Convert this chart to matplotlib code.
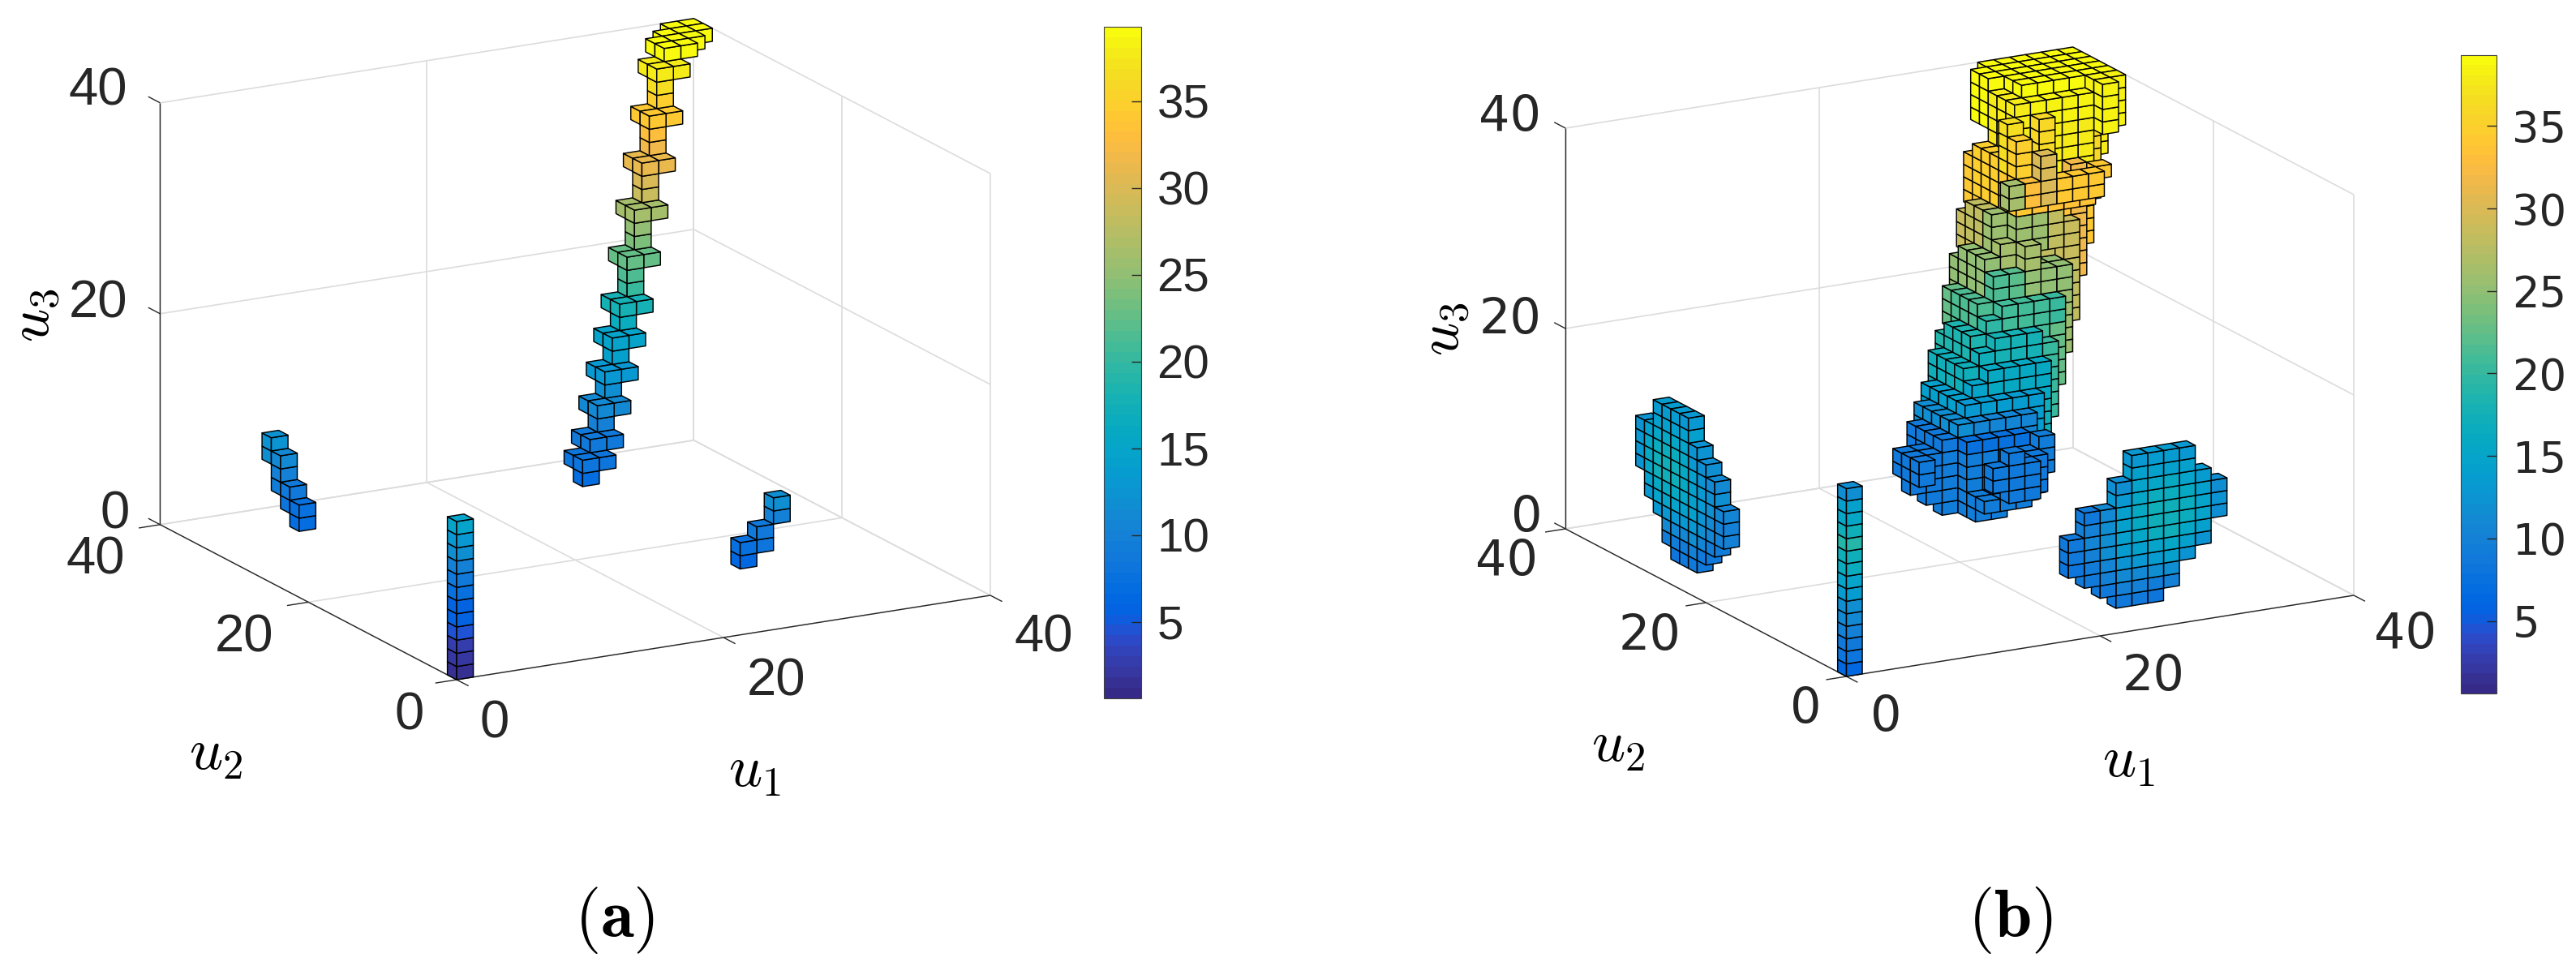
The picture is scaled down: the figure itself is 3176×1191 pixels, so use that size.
import matplotlib
matplotlib.use("Agg")
import matplotlib.pyplot as plt
import numpy as np
from matplotlib.collections import PolyCollection, LineCollection
from matplotlib.colors import ListedColormap, Normalize
from matplotlib.cm import ScalarMappable

# ---------------- colormap ----------------
PARULA = [[0.2081,0.1663,0.5292],[0.2116,0.1898,0.5777],[0.2123,0.2138,0.6270],[0.2081,0.2386,0.6771],[0.1959,0.2645,0.7279],[0.1707,0.2919,0.7792],[0.1253,0.3242,0.8303],[0.0591,0.3598,0.8683],[0.0117,0.3875,0.8820],[0.0060,0.4086,0.8828],[0.0165,0.4266,0.8786],[0.0329,0.4430,0.8720],[0.0498,0.4586,0.8641],[0.0629,0.4737,0.8554],[0.0723,0.4887,0.8467],[0.0779,0.5040,0.8384],[0.0793,0.5200,0.8312],[0.0749,0.5375,0.8263],[0.0641,0.5570,0.8240],[0.0488,0.5772,0.8228],[0.0343,0.5966,0.8199],[0.0265,0.6137,0.8135],[0.0239,0.6287,0.8038],[0.0231,0.6418,0.7913],[0.0228,0.6535,0.7768],[0.0267,0.6642,0.7607],[0.0384,0.6743,0.7436],[0.0590,0.6838,0.7254],[0.0843,0.6928,0.7062],[0.1133,0.7015,0.6859],[0.1453,0.7098,0.6646],[0.1801,0.7177,0.6424],[0.2178,0.7250,0.6193],[0.2586,0.7317,0.5954],[0.3022,0.7376,0.5712],[0.3482,0.7424,0.5473],[0.3953,0.7459,0.5244],[0.4420,0.7481,0.5033],[0.4871,0.7491,0.4840],[0.5300,0.7491,0.4661],[0.5709,0.7485,0.4494],[0.6099,0.7473,0.4337],[0.6473,0.7456,0.4188],[0.6834,0.7435,0.4044],[0.7184,0.7411,0.3905],[0.7525,0.7384,0.3768],[0.7858,0.7356,0.3633],[0.8185,0.7327,0.3498],[0.8507,0.7299,0.3360],[0.8824,0.7274,0.3217],[0.9139,0.7258,0.3063],[0.9450,0.7261,0.2886],[0.9739,0.7314,0.2666],[0.9938,0.7455,0.2403],[0.9990,0.7653,0.2164],[0.9955,0.7861,0.1967],[0.9880,0.8066,0.1794],[0.9789,0.8271,0.1633],[0.9697,0.8481,0.1475],[0.9626,0.8705,0.1309],[0.9589,0.8949,0.1132],[0.9598,0.9218,0.0948],[0.9661,0.9514,0.0755],[0.9763,0.9831,0.0538]]
cmap = ListedColormap(PARULA)
VMIN, VMAX = 0.6, 39.3
norm = Normalize(VMIN, VMAX)

# ---------------- data: panel (a), voxel indices and values ----------------
A_COLUMN_VALUES = [1.5, 2, 3, 4.5, 5.5, 6, 7.5, 8.5, 10, 11.5, 13, 15]
A_LEFT = [(17,5,7),(17,6,7.5),(18,6,8),(18,7,9),(19,7,9.5),(19,8,10),(19,9,11),(20,9,11.5),(20,10,12.5)]
A_RIGHT = [(17,5,6.5),(17,6,7.5),(18,6,8),(18,7,9),(19,8,10),(19,9,11.5)]
A_CROSS_N = [17,18,19,20,21,22,23,24,25,26,27]
A_CROSS_K = [6,7,9,11,13,15,18,21,24,27,30]
A_CROSS_V = [8,9,11,13,15,18,22.5,26.5,31,34,37.5]
A_STEM = [(17,5,7),(19,8,10),(20,10,12),(21,12,14),(22,14,16.5),(23,16,20),(23,17,21.5),(24,19,24),(24,20,25),
          (25,22,29),(25,23,30),(26,25,32),(26,26,33),(27,28,35),(27,29,36.5)]
A_TOP_IJ = [(28,28),(29,28),(28,29),(29,29),(30,29),(29,30),(30,30),(31,30),(30,31),(31,31)]
A_TOP_K, A_TOP_V = 31, 39

# ---------------- data: panel (b) ----------------
B_COLUMN_VALUES = [6.5,8,9,10,11,12,13.5,15,16.5,17.5,19,17.5,15.5,14,12]
B_LEFT = {14:(5,[10,10,10.5]), 15:(4,[9.5,10.5,11,11.5,11.5,11]), 16:(3,[9,10.5,11.5,12.5,13,13,12.5,12]),
          17:(2,[9,10,11.5,13,14,14.5,14.5,14,13,12.5]), 18:(2,[8.5,9.5,11,13,14.5,15.5,16,16,15.5,15,14,13]),
          19:(2,[8,9.5,11,13,15,16,17,17,16.5,15.5,14.5,13.5]), 20:(3,[9.5,11,13,15,16,17,17,16.5,15.5,14.5,13.5]),
          21:(5,[13,15,16,17,17,16.5,15.5,14.5,13.5]), 22:(6,[13,14.5,15.5,16,15.5,14.5]), 23:(8,[12.5,13,13,12.5])}
B_RIGHT = {14:(5,[8,8.5,8.5]), 15:(4,[8.5,9.5,10,10.5,10,9]), 16:(3,[9,10,10.5,11.5,12,12,11]),
           17:(2,[8.5,10,11,12.5,13.5,14,14.5,14,13,12]), 18:(2,[8.5,10,11,13,14.5,15.5,16,16,15.5,15,14,13]),
           19:(2,[8,9.5,11.5,13.5,15,16.5,17,17,16.5,15.5,14.5,13.5]), 20:(3,[10,11.5,14,15.5,17,17,17,16.5,16,14.5,13.5]),
           21:(5,[12.5,14,15.5,16.5,16.5,16,15,14,13]), 22:(6,[12.5,14,15,15,14.5,13.5]), 23:(8,[12,12.5,12])}
# main body of (b): i0, i1, j0, j1, k0, k1, value (inclusive voxel index ranges)
B_BODY = [
    # inner parts of each layer, seen only through gaps
    (25,28,25,28,20,24,33.5),(24,27,25,27,16,21,28),(23,26,24,26,14,18,25),(22,25,23,25,12,16,21.5),
    (21,24,22,24,10,13,18.5),(20,23,21,23,9,12,16),(19,22,20,22,8,10,14),(18,21,19,21,7,9,12),(17,20,18,21,4,7,9.5),
    # right-hand strips that run deep behind the lower layers
    (31,31,28,28,25,31,38),(30,30,27,27,22,31,36),(29,29,26,26,19,25,34),(28,28,25,25,17,25,31.5),
    (27,27,24,24,14,21,28),(26,26,23,23,12,18,25.5),(25,25,22,22,10,16,22.5),(24,24,21,21,8,13,20),(23,23,20,20,7,12,17.5),
    # yellow top block
    (26,31,27,31,28,31,39),(25,25,29,30,28,31,39),(26,26,31,31,28,31,39),
    (30,30,25,25,28,31,38.5),(30,31,26,26,28,31,38.5),
    (26,29,26,26,29,30,38.5),(26,29,26,26,25,28,37.5),(25,25,26,28,28,30,38),(25,25,26,28,26,27,37),
    (26,26,25,25,26,29,36),(24,24,25,25,26,29,36.5),(24,24,24,24,26,28,35),
    # orange layer
    (24,24,29,29,22,25,34),(24,24,26,28,23,26,34.5),(24,24,24,25,23,25,34),
    (23,23,23,23,24,25,26.5),(24,24,23,23,24,25,33),(25,25,23,23,24,27,30),(26,28,23,23,24,25,34),(29,29,24,24,25,25,34),
    (25,28,24,24,23,24,33.5),
    # tan layer
    (23,23,28,28,19,21,28.5),(23,23,26,27,20,22,28),(23,23,25,25,20,22,25.5),(23,23,24,24,18,20,26),
    (24,25,24,24,20,22,25.5),(26,26,24,24,20,22,28),(27,27,24,24,19,21,29),
    # green layer
    (22,22,27,27,16,18,25),(22,22,24,26,17,19,25),(22,22,23,23,16,18,21.5),
    (24,24,23,23,19,20,26),(24,24,23,23,16,18,25),(23,23,23,23,16,18,22),(25,26,23,23,17,18,25),
    # green-teal layer
    (21,21,26,26,14,16,22.5),(21,21,23,25,14,16,21.5),(21,21,22,22,14,15,19.5),(22,24,22,22,14,16,21),(25,25,22,22,15,16,20),
    # teal layers
    (20,20,25,25,11,13,19),(20,20,22,24,12,14,18.5),(20,20,21,21,11,13,17),(21,23,21,21,12,14,18),(24,24,21,21,12,13,20),
    (19,19,24,24,10,12,17.5),(19,19,21,23,10,12,17),(19,19,20,20,10,11,15),(20,23,20,20,10,12,16),
    (18,18,20,23,8,10,14.5),(18,18,19,19,8,10,13),(19,22,19,19,8,10,13.5),
    (17,17,18,22,7,9,12),(18,21,18,18,7,9,10.5),
    # blue ball
    (16,16,21,21,5,8,9),(16,16,20,20,4,8,9),(16,16,19,19,4,8,9),(16,16,18,18,3,8,9.5),(16,16,18,21,8,8,8.5),
    (17,17,18,21,3,6,9.5),(14,14,19,19,6,7,8.5),(14,14,18,18,5,7,8.5),(14,14,17,17,6,7,8.5),
    (15,15,19,19,5,7,9),(15,15,18,18,4,7,9),
    (17,20,17,17,8,8,7.5),(17,17,17,17,3,7,9.5),(18,20,17,17,4,7,9.5),
    (17,18,16,16,3,4,9.5),(19,20,16,16,4,4,9.5),(17,19,15,15,4,4,9.5),
    (21,21,17,17,4,7,9.5),(21,21,16,16,6,8,9.5),(20,20,15,16,5,7,9),
    (17,17,14,14,6,7,8.5),(18,18,14,14,5,8,8.5),(19,19,14,14,5,7,8.5),
]

U_TICKS = [0, 20, 40]
CB_TICKS = [5, 10, 15, 20, 25, 30, 35]
TICK_COLOR = '#262626'

# ---------------- panel geometry (image pixels) ----------------
GEOM_A = dict(O=(563,838), e1=(16.45,-2.6), e2=(-9.14,-4.78), e3=(0,-13.0))
GEOM_B = dict(O=(2276.5,834), e1=(15.64,-2.5), e2=(-8.66,-4.55), e3=(0,-12.35))
VOX = 1.25

def proj(g, u1, u2, u3):
    return (g['O'][0] + g['e1'][0]*u1 + g['e2'][0]*u2 + g['e3'][0]*u3,
            g['O'][1] + g['e1'][1]*u1 + g['e2'][1]*u2 + g['e3'][1]*u3)

W, H = 3176, 1191
fig = plt.figure(figsize=(W/100, H/100), dpi=100)
ax = fig.add_axes([0, 0, 1, 1])
ax.set_xlim(0, W); ax.set_ylim(H, 0); ax.axis('off')

def draw_box(g):
    grid, dark = [], []
    for t in U_TICKS:
        grid.append([proj(g,0,t,0), proj(g,40,t,0)])
        grid.append([proj(g,t,0,0), proj(g,t,40,0)])
        grid.append([proj(g,0,40,t), proj(g,40,40,t)])
        grid.append([proj(g,40,0,t), proj(g,40,40,t)])
        grid.append([proj(g,t,40,0), proj(g,t,40,40)])
        grid.append([proj(g,40,t,0), proj(g,40,t,40)])
    ax.add_collection(LineCollection(grid, colors='#dcdcdc', linewidths=1.2, zorder=1))
    dark.append([proj(g,0,0,0), proj(g,40,0,0)])
    dark.append([proj(g,0,0,0), proj(g,0,40,0)])
    dark.append([proj(g,0,40,0), proj(g,0,40,40)])
    for t in U_TICKS:
        dark.append([proj(g,t,0,0), proj(g,t,-1.6,0)])
        dark.append([proj(g,0,t,0), proj(g,-1.6,t,0)])
        dark.append([proj(g,0,40,t), proj(g,0,41.6,t)])
    ax.add_collection(LineCollection(dark, colors='#262626', linewidths=1.0, zorder=2))

def draw_voxels(g, vox, lw=1.05):
    keys = sorted(vox.keys(), key=lambda c: (-(c[0]+c[1]-c[2]), c[2]))
    polys, vals = [], []
    for (i, j, k) in keys:
        v = vox[(i, j, k)]
        x0, x1, y0, y1, z0, z1 = i*VOX, (i+1)*VOX, j*VOX, (j+1)*VOX, k*VOX, (k+1)*VOX
        if (i-1, j, k) not in vox:
            polys.append([proj(g,x0,y0,z0), proj(g,x0,y1,z0), proj(g,x0,y1,z1), proj(g,x0,y0,z1)]); vals.append(v)
        if (i, j-1, k) not in vox:
            polys.append([proj(g,x0,y0,z0), proj(g,x1,y0,z0), proj(g,x1,y0,z1), proj(g,x0,y0,z1)]); vals.append(v)
        if (i, j, k+1) not in vox:
            polys.append([proj(g,x0,y0,z1), proj(g,x1,y0,z1), proj(g,x1,y1,z1), proj(g,x0,y1,z1)]); vals.append(v)
    ax.add_collection(PolyCollection(polys, facecolors=cmap(norm(np.array(vals))), edgecolors='black',
                                     linewidths=lw, zorder=3, joinstyle='round'))

# ----- build voxels of (a)
va = {}
for k, v in enumerate(A_COLUMN_VALUES):
    va[(0,0,k)] = v
for j, k, v in A_LEFT:
    va[(0,j,k)] = v
for i, k, v in A_RIGHT:
    va[(i,0,k)] = v
for n, k, v in zip(A_CROSS_N, A_CROSS_K, A_CROSS_V):
    for di, dj in [(0,0),(1,0),(0,1),(1,1)]:
        va[(n+di, n+dj, k)] = v
for n, k, v in A_STEM:
    va[(n, n, k)] = v
for i, j in A_TOP_IJ:
    va[(i, j, A_TOP_K)] = A_TOP_V

# ----- build voxels of (b)
vb = {}
for k, v in enumerate(B_COLUMN_VALUES):
    vb[(0,0,k)] = v
for j, (k0, vals) in B_LEFT.items():
    for n, v in enumerate(vals):
        vb[(0,j,k0+n)] = v
for i, (k0, vals) in B_RIGHT.items():
    for n, v in enumerate(vals):
        vb[(i,0,k0+n)] = v
for i0, i1, j0, j1, k0, k1, v in B_BODY:
    for i in range(i0, i1+1):
        for j in range(j0, j1+1):
            for k in range(k0, k1+1):
                vb[(i,j,k)] = v

draw_box(GEOM_A); draw_voxels(GEOM_A, va)
draw_box(GEOM_B); draw_voxels(GEOM_B, vb)

# ----- text
plt.rcParams['mathtext.fontset'] = 'cm'
def T(x, y, s, fs, family='DejaVu Sans', color=TICK_COLOR, **kw):
    ax.text(x, y, s, fontsize=fs, ha='center', va='center', color=color, family=family, **kw)

FA, FB, LAB, CAP = 47, 43.5, 52, 60
for lab, pts in [(['0','20','40'], [(610,893),(957,840),(1287,786)]),
                 (['0','20','40'], [(505,883),(301,786),(118,691)]),
                 (['0','20','40'], [(142,634),(121,374),(121,112)])]:
    for s, (x, y) in zip(lab, pts):
        T(x, y, s, FA, family='Liberation Sans')
for lab, pts in [(['0','20','40'], [(2325,884),(2655,834),(2966,783)]),
                 (['0','20','40'], [(2226,874),(2034,784),(1858,693)]),
                 (['0','20','40'], [(1882,638),(1862,394),(1862,144)])]:
    for s, (x, y) in zip(lab, pts):
        T(x, y, s, FB)
T(41, 389, r'$u_3$', LAB, rotation=90, color='black'); T(266, 929, r'$u_2$', LAB, color='black'); T(930, 950, r'$u_1$', LAB, color='black')
T(1780, 406, r'$u_3$', LAB, rotation=90, color='black'); T(1995, 919, r'$u_2$', LAB, color='black'); T(2624, 938, r'$u_1$', LAB, color='black')
T(758, 1134, r'$(\mathbf{a})$', CAP, color='black'); T(2478, 1134, r'$(\mathbf{b})$', CAP, color='black')

# ----- colorbars
def cbar(x0, x1, y0, y1, family, size):
    cax = fig.add_axes([x0/W, 1-y1/H, (x1-x0)/W, (y1-y0)/H])
    cb = fig.colorbar(ScalarMappable(norm=norm, cmap=cmap), cax=cax)
    cb.set_ticks(CB_TICKS)
    cb.ax.tick_params(direction='in', length=9, width=1, labelsize=size, labelcolor=TICK_COLOR, color='#262626', pad=14)
    for t in cb.ax.get_yticklabels():
        t.set_family(family)
    cb.outline.set_linewidth(0.8); cb.outline.set_edgecolor('#404040')
cbar(1361, 1407, 33, 861, 'Liberation Sans', 42)
cbar(3034, 3078, 68, 855, 'DejaVu Sans', 38)

fig.savefig('out.png', dpi=100, facecolor='white')
